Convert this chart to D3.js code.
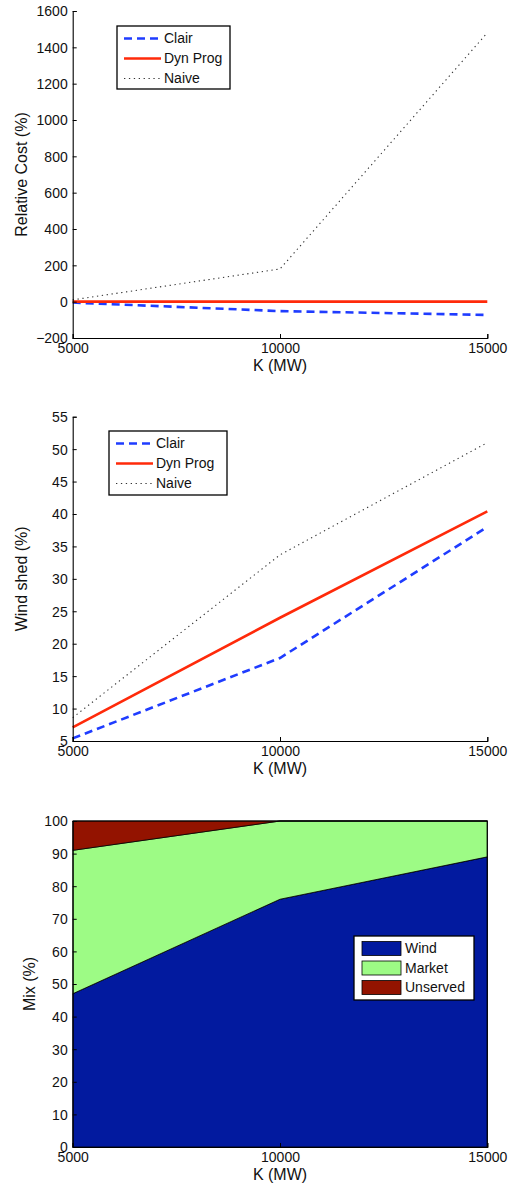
<!DOCTYPE html>
<html>
<head>
<meta charset="utf-8">
<script src="https://cdn.jsdelivr.net/npm/d3@7"></script>
<style>
  body { margin: 0; background: #fff; }
  text { font-family: "Liberation Sans", Arial, sans-serif; fill: #111; }
</style>
</head>
<body>
<div id="chart"></div>
<script>
// Data
var kValues = [5000, 10000, 15000];
var kTicks = [5000, 10000, 15000];

var costClair = [-5, -52, -73];
var costDyn = [0, 0, 0];
var costNaive = [10, 180, 1480];
var costTicks = [-200, 0, 200, 400, 600, 800, 1000, 1200, 1400, 1600];

var shedClair = [5.4, 17.8, 38];
var shedDyn = [7.1, 24, 40.4];
var shedNaive = [8.6, 33.7, 51];
var shedTicks = [5, 10, 15, 20, 25, 30, 35, 40, 45, 50, 55];

var mixWind = [47, 76, 89];
var mixMarket = [44, 24, 11];
var mixUnserved = [9, 0, 0];
var mixTicks = [0, 10, 20, 30, 40, 50, 60, 70, 80, 90, 100];

var seriesNames = ["Clair", "Dyn Prog", "Naive"];
var mixNames = ["Wind", "Market", "Unserved"];

var width = 517, height = 1189;
var left = 72.7, right = 487.3;

var svg = d3.select("#chart").append("svg")
    .attr("width", width)
    .attr("height", height);

var x = d3.scaleLinear().domain([5000, 15000]).range([left, right]);

var lineStyles = [
    { color: "#1f3cff", width: 2.6, dash: "8,5" },
    { color: "#ff2a0a", width: 2.6, dash: null },
    { color: "#333", width: 1.1, dash: "1.3,3.6" }
];

// draw the inward MATLAB style axes
function drawAxes(g, y, yTicks, top, bottom, ylabel, ylabelX, box) {
    var ya = g.append("g").attr("transform", "translate(" + left + ",0)")
        .call(d3.axisLeft(y).tickValues(yTicks).tickSize(-4).tickPadding(5)
            .tickFormat(function (d) { return d < 0 ? "\u2212" + Math.abs(d) : String(d); }));
    var xa = g.append("g").attr("transform", "translate(0," + bottom + ")")
        .call(d3.axisBottom(x).tickValues(kTicks).tickSize(-4).tickPadding(5)
            .tickFormat(d3.format("d")));
    [ya, xa].forEach(function (a) {
        a.select(".domain").attr("stroke", "#000").attr("stroke-width", 1.1);
        a.selectAll(".tick line").attr("stroke", "#000");
        a.selectAll("text").style("font-size", "14px").attr("fill", "#111");
    });
    ya.selectAll(".tick text").attr("dy", "0.35em");
    if (box) {
        g.append("path")
            .attr("d", "M" + left + "," + top + "H" + right + "V" + bottom)
            .attr("fill", "none").attr("stroke", "#000").attr("stroke-width", 1.1);
    }
    g.append("text")
        .attr("x", (left + right) / 2)
        .attr("y", bottom + 33)
        .attr("text-anchor", "middle")
        .style("font-size", "16px")
        .text("K (MW)");
    g.append("text")
        .attr("transform", "translate(" + ylabelX + "," + (top + bottom) / 2 + ") rotate(-90)")
        .attr("text-anchor", "middle")
        .style("font-size", "16px")
        .text(ylabel);
}

function lineChart(series, yDomain, yTicks, top, bottom, ylabel, ylabelX, legend) {
    var g = svg.append("g");
    var y = d3.scaleLinear().domain(yDomain).range([bottom, top]);
    var line = d3.line()
        .x(function (d, i) { return x(kValues[i]); })
        .y(function (d) { return y(d); });

    // draw naive first so the others lie on top
    [2, 0, 1].forEach(function (s) {
        var st = lineStyles[s];
        g.append("path")
            .datum(series[s])
            .attr("d", line)
            .attr("fill", "none")
            .attr("stroke", st.color)
            .attr("stroke-width", st.width)
            .attr("stroke-dasharray", st.dash);
    });

    drawAxes(g, y, yTicks, top, bottom, ylabel, ylabelX, false);

    // legend
    var lg = g.append("g");
    lg.append("rect")
        .attr("x", legend.x).attr("y", legend.y)
        .attr("width", legend.w).attr("height", legend.h)
        .attr("fill", "#fff").attr("stroke", "#000").attr("stroke-width", 1.3);
    seriesNames.forEach(function (name, i) {
        var cy = legend.y + 12.5 + i * 20;
        var st = lineStyles[i];
        lg.append("line")
            .attr("x1", legend.x + 7).attr("x2", legend.x + 44)
            .attr("y1", cy).attr("y2", cy)
            .attr("stroke", st.color)
            .attr("stroke-width", st.width)
            .attr("stroke-dasharray", st.dash);
        lg.append("text")
            .attr("x", legend.x + 47).attr("y", cy)
            .attr("dy", "0.35em")
            .style("font-size", "14px")
            .text(name);
    });
}

lineChart([costClair, costDyn, costNaive], [-200, 1600], costTicks, 11, 338,
    "Relative Cost (%)", 27, { x: 117, y: 26, w: 113, h: 63 });

lineChart([shedClair, shedDyn, shedNaive], [5, 55], shedTicks, 416.7, 741,
    "Wind shed (%)", 27, { x: 109, y: 431, w: 118, h: 64 });

// Bottom: stacked area
(function () {
    var top = 821, bottom = 1147;
    var g = svg.append("g");
    var y = d3.scaleLinear().domain([0, 100]).range([bottom, top]);
    var rows = kValues.map(function (k, i) {
        return { k: k, Wind: mixWind[i], Market: mixMarket[i], Unserved: mixUnserved[i] };
    });
    var stacked = d3.stack().keys(mixNames)(rows);
    var colors = ["#021a9f", "#9dfb85", "#931300"];
    var area = d3.area()
        .x(function (d) { return x(d.data.k); })
        .y0(function (d) { return y(d[0]); })
        .y1(function (d) { return y(d[1]); });

    g.selectAll(".layer")
        .data(stacked)
        .enter().append("path")
        .attr("class", "layer")
        .attr("d", area)
        .attr("fill", function (d, i) { return colors[i]; })
        .attr("stroke", "#000")
        .attr("stroke-width", 0.8);

    drawAxes(g, y, mixTicks, top, bottom, "Mix (%)", 35, true);

    var lx = 354, ly = 936;
    g.append("rect")
        .attr("x", lx).attr("y", ly).attr("width", 120).attr("height", 64)
        .attr("fill", "#fff").attr("stroke", "#000").attr("stroke-width", 1.3);
    mixNames.forEach(function (name, i) {
        var cy = ly + 12.5 + i * 19.5;
        g.append("rect")
            .attr("x", lx + 8).attr("y", cy - 7)
            .attr("width", 39).attr("height", 14)
            .attr("fill", colors[i]).attr("stroke", "#000").attr("stroke-width", 0.8);
        g.append("text")
            .attr("x", lx + 51).attr("y", cy)
            .attr("dy", "0.35em")
            .style("font-size", "14px")
            .text(name);
    });
})();
</script>
</body>
</html>
